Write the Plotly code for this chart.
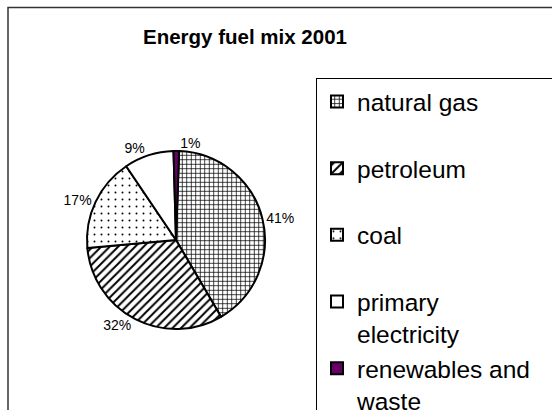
import plotly.graph_objects as go

# ---- data ----
categories = ["natural gas", "petroleum", "coal", "primary electricity", "renewables and waste"]
legend_labels = ["natural gas<br> ", "petroleum<br> ", "coal<br> ", "primary<br>electricity",
                 "renewables and\u00a0\u00a0\u00a0<br>waste"]
values = [41, 32, 17, 9, 1]
fill_colors = ["white", "white", "white", "white", "#660066"]
pattern_shapes = ["+", "/", ".", "", ""]
pattern_sizes = [4.5, 6, 7, 8, 8]
pattern_solidity = [0.3, 0.33, 0.06, 0.2, 0.2]

W, H = 552, 410

fig = go.Figure()
fig.add_trace(go.Pie(
    labels=legend_labels,
    values=values,
    sort=False,
    direction="clockwise",
    rotation=2,
    marker=dict(
        colors=fill_colors,
        line=dict(color="black", width=2),
        pattern=dict(
            shape=pattern_shapes,
            size=pattern_sizes,
            solidity=pattern_solidity,
            fgcolor="black",
            bgcolor=fill_colors,
            fillmode="replace",
        ),
    ),
    textinfo="percent",
    texttemplate="%{percent:.0%}",
    textposition="outside",
    textfont=dict(family="Liberation Sans, Arial, sans-serif", size=14, color="black"),
    domain=dict(x=[87 / W, 265 / W], y=[1 - 329 / H, 1 - 151 / H]),
    hoverinfo="skip",
    showlegend=True,
))

fig.update_layout(
    width=W,
    height=H,
    margin=dict(l=0, r=0, t=0, b=0, autoexpand=False),
    paper_bgcolor="white",
    plot_bgcolor="white",
    font=dict(family="Liberation Sans, Arial, sans-serif", color="black"),
    title=dict(
        text="<b>Energy fuel mix 2001</b>",
        x=245 / W, xanchor="center", xref="container",
        y=1 - 37 / H, yanchor="middle", yref="container",
        font=dict(family="Liberation Sans, Arial, sans-serif", size=20.5, color="black"),
    ),
    legend=dict(
        x=316 / W, y=1 - 78 / H, xanchor="left", yanchor="top",
        xref="paper", yref="paper",
        bordercolor="black", borderwidth=1, bgcolor="white",
        font=dict(family="Liberation Sans, Arial, sans-serif", size=24.5, color="black"),
        valign="top",
        maxheight=2000,
    ),
    shapes=[dict(
        type="rect", xref="paper", yref="paper",
        x0=8 / W, x1=1.05, y0=-0.05, y1=1 - 7.5 / H,
        line=dict(color="#333333", width=1.5), fillcolor="rgba(0,0,0,0)",
        layer="below",
    )],
)

fig.write_html("out.html")
